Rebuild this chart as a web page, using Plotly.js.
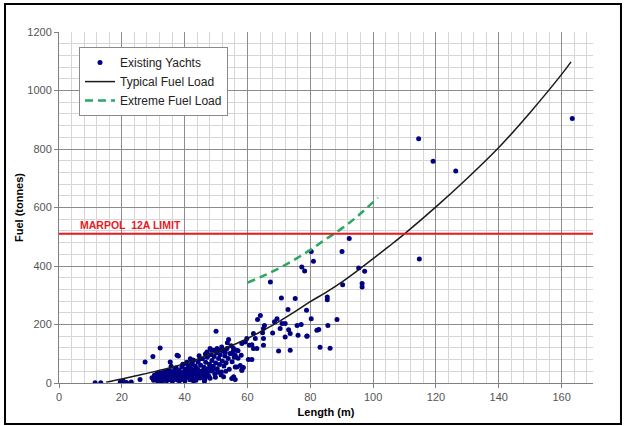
<!DOCTYPE html>
<html>
<head>
<meta charset="utf-8">
<script src="https://cdn.plot.ly/plotly-3.0.1.min.js"></script>
<style>html,body{margin:0;padding:0;background:#fff;}#chart{width:626px;height:426px;}</style>
</head>
<body>
<div id="chart"></div>
<script>
// Existing yachts (length m, fuel tonnes)
const yachtLength = [
11.5,13.3,19.5,20.5,21.5,23,25.8,27.4,29.9,32.2,35.4,37.6,38,42.3,
29.6,30.1,30.4,30.9,31.3,31.4,31.7,32.1,32.4,32.6,32.9,33.1,33.4,33.7,34.1,34.3,34.6,34.9,35.1,35.3,
35.6,35.9,36.1,36.3,36.7,36.9,37.1,37.4,37.6,37.9,38.1,38.3,38.6,38.9,39.1,39.3,39.6,39.9,40.1,40.3,
40.6,40.9,41.1,41.4,41.7,41.9,42.1,42.4,42.6,42.9,43.1,43.4,43.6,43.9,44.1,44.3,44.6,44.9,45.1,45.4,
45.7,45.9,46.2,46.4,46.7,46.9,47.2,47.4,47.7,47.9,48.3,48.5,48.7,49.1,49.4,49.6,49.9,50.2,50.4,50.8,
51.1,51.3,51.7,52.0,52.3,52.5,52.8,53.2,53.5,53.9,54.2,54.4,54.8,55.1,55.4,55.8,
36.4,34.4,33.2,31.1,32.3,38.7,40.4,42.2,44.4,46.1,47.1,48.1,45.3,43.3,41.3,39.4,37.3,35.7,
40.7,42.7,44.6,46.6,48.6,37.8,39.7,41.6,43.7,45.6,47.6,49.3,50.6,34.7,36.6,38.4,42.8,46.3,49.8,51.6,53.1,
50,54,53.6,58.2,56.6,56.1,57.7,58.2,56.1,52.4,55,46.5,48.1,41.8,42.8,44.9,47.1,48.1,49.2,50.3,51.3,51.8,52.9,
67.3,70.8,75.2,64.1,63.2,72.9,69.4,68.6,71,72,68,70.4,73.1,73.6,72,75.8,76.1,78.9,65.1,65.4,64.8,65.1,65.1,62.5,61.9,
59.3,59.8,60.6,61.4,61.9,63,69.9,73.6,60.3,61.4,56.6,58.7,58.2,55.6,56.1,55,56,57,58,55.5,57,
92.4,90.1,80.3,81,77.3,78.2,95.4,97.3,90.3,96.5,96.5,85.4,85.4,78.8,80.3,88.5,77.1,85.6,82.7,82.1,79,83.1,86.3,
114.5,119.1,126.3,163.4,114.7
];
const yachtFuel = [
1,1,3,6,2,3,12,72,91,120,72,95,92,72,
18,9,27,14,33,6,21,11,29,17,4,24,37,13,27,8,19,33,11,42,
24,16,6,31,21,47,13,36,26,9,18,43,31,12,55,24,38,17,7,47,
29,63,19,39,11,52,27,66,16,43,31,58,9,22,49,72,35,17,61,41,
83,27,54,13,71,36,88,49,24,64,97,41,77,57,91,31,68,103,49,84,
63,97,38,75,109,58,92,69,118,84,47,101,127,73,107,88,
38,41,19,26,35,23,34,35,27,46,30,53,20,45,56,64,52,57,
71,78,93,99,112,30,27,30,36,33,40,46,37,25,14,8,7,6,20,27,40,
177,149,138,135,112,95,60,43,55,21,15,16,16,83,78,83,106,118,112,118,112,123,106,
345,291,289,231,217,251,220,209,203,203,171,186,182,169,157,197,163,160,186,197,172,152,129,152,169,
140,152,129,131,118,118,109,112,80,80,55,53,46,21,12,100,90,110,95,120,85,
494,450,450,416,397,383,393,382,336,340,328,294,285,249,220,217,200,197,183,180,161,122,119,
835,758,725,904,424
];

// Typical fuel load curve
const typicalLength = [15,20,25,30,35,40,45,50,55,60,65,70,75,80,85,90,95,100,105,110,120,130,140,150,160,163];
const typicalFuel   = [3,14,26,38,51,67,85,106,128,152,180,210,243,278,310,345,384,425,467,510,602,700,805,925,1055,1098];

// Extreme fuel load curve
const extremeLength = [60,65,70,75,80,85,90,95,101.5];
const extremeFuel   = [343,366,392,422,455,492,528,570,634];

// MARPOL 12A limit
const marpolLimit = 510;
const marpolLabel = "MARPOL  12A LIMIT";

const seriesNames = ["Existing Yachts","Typical Fuel Load","Extreme Fuel Load"];

const traces = [
  {x: yachtLength, y: yachtFuel, type: 'scatter', mode: 'markers', name: seriesNames[0],
   marker: {color: '#000080', size: 5, symbol: 'circle'}},
  {x: typicalLength, y: typicalFuel, type: 'scatter', mode: 'lines', name: seriesNames[1],
   line: {color: '#1a1a1a', width: 1.5, shape: 'spline', smoothing: 1}},
  {x: extremeLength, y: extremeFuel, type: 'scatter', mode: 'lines', name: seriesNames[2],
   line: {color: '#2aa862', width: 2.5, dash: '8px,5px', shape: 'spline'}}
];

const tickFont = {family: 'Arial, Liberation Sans, sans-serif', size: 11, color: '#555555'};
const titleFont = {family: 'Arial, Liberation Sans, sans-serif', size: 11, color: '#000000', weight: 'bold'};

const layout = {
  width: 626, height: 426,
  margin: {l: 59, r: 33, t: 32, b: 43},
  paper_bgcolor: '#ffffff', plot_bgcolor: '#ffffff',
  showlegend: true,
  legend: {x: 0.0375, y: 0.957, xanchor: 'left', yanchor: 'top',
    bgcolor: '#ffffff', bordercolor: '#8a8a8a', borderwidth: 1,
    font: {family: 'Arial, Liberation Sans, sans-serif', size: 12, color: '#222222'}},
  xaxis: {range: [0, 170], tick0: 0, dtick: 20, showgrid: true, gridcolor: '#8c8c8c', gridwidth: 1,
    minor: {dtick: 4, showgrid: true, gridcolor: '#d6d6d6', gridwidth: 1},
    zeroline: false, showline: true, linecolor: '#808080', linewidth: 1,
    ticks: 'outside', ticklen: 4, tickcolor: '#808080', tickfont: tickFont,
    title: {text: 'Length (m)', font: titleFont, standoff: 6}},
  yaxis: {range: [0, 1200], tick0: 0, dtick: 200, showgrid: true, gridcolor: '#8c8c8c', gridwidth: 1,
    minor: {dtick: 40, showgrid: true, gridcolor: '#d6d6d6', gridwidth: 1},
    zeroline: false, showline: true, linecolor: '#808080', linewidth: 1,
    ticks: 'outside', ticklen: 4, tickcolor: '#808080', tickfont: tickFont,
    title: {text: 'Fuel (tonnes)', font: titleFont, standoff: 1}},
  shapes: [
    {type: 'line', xref: 'x', yref: 'y', x0: 0, x1: 170, y0: marpolLimit, y1: marpolLimit,
     line: {color: '#e8191f', width: 2}},
    {type: 'rect', xref: 'paper', yref: 'paper', x0: -0.1011, x1: 1.0524, y0: -0.1168, y1: 1.0798,
     line: {color: '#000000', width: 2}}
  ],
  annotations: [
    {x: 6, y: marpolLimit, xref: 'x', yref: 'y', xanchor: 'left', yanchor: 'bottom', yshift: 1,
     text: '<b>' + marpolLabel + '</b>', showarrow: false,
     font: {family: 'Arial, Liberation Sans, sans-serif', size: 10.5, color: '#e8191f'}}
  ]
};

Plotly.newPlot('chart', traces, layout, {displayModeBar: false, staticPlot: true});
</script>
</body>
</html>
